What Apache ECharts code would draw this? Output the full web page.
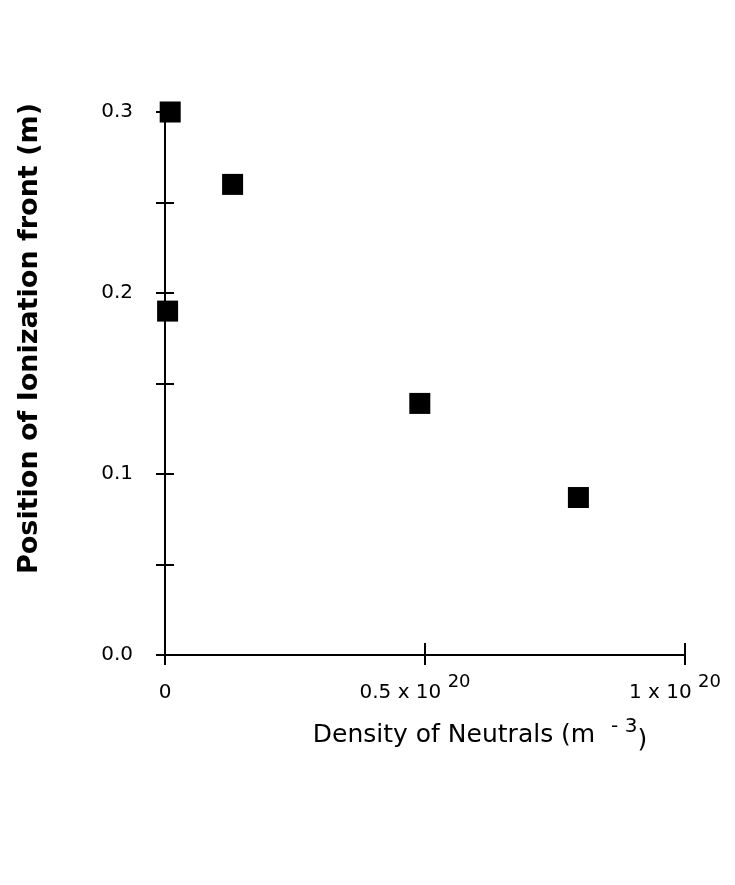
<!DOCTYPE html>
<html>
<head>
    <meta charset="utf-8">
    <title>Ionization front</title>
    <script src="https://cdn.jsdelivr.net/npm/echarts@6.0.0/dist/echarts.min.js"></script>
    <style>body{margin:0;background:#fff;}</style>
</head>
<body>
    <div id="main" style="width:735px;height:885px;"></div>

<script>
// density in units of 1e20 m^-3, position in m
const density = [0.01, 0.13, 0.005, 0.49, 0.795];
const position = [0.30, 0.26, 0.19, 0.139, 0.087];
const yTickLabels = ['0.0', '0.1', '0.2', '0.3'];

const FONT = 'DejaVu Sans';

const myChart = echarts.init(document.getElementById('main'));

const yLabel = (v) => {
    const i = Math.round(v * 10);
    return Math.abs(v * 10 - i) < 1e-6 ? yTickLabels[i] : '';
};
const xLabel = (v) => {
    if (v === 0) return '{n|0}';
    if (Math.abs(v - 0.5) < 1e-6) return '{n|0.5 x 10 }{s|20}';
    if (Math.abs(v - 1) < 1e-6) return '{n|1 x 10 }{s|20}';
    return '';
};

const option = {
    backgroundColor: '#fff',
    animation: false,
    grid: { left: 165, right: 50, top: 112, bottom: 230 },
    xAxis: [{
        type: 'value', min: 0, max: 1, interval: 0.5,
        axisLine: { lineStyle: { color: '#000', width: 2 } },
        axisTick: { length: 10, lineStyle: { color: '#000', width: 2 } },
        splitLine: { show: false },
        axisLabel: {
            margin: 14, color: '#000', fontFamily: FONT, fontSize: 20,
            formatter: xLabel,
            rich: {
                n: { fontSize: 20, fontFamily: FONT, color: '#000', padding: [14, 0, 0, 0] },
                s: { fontSize: 18, fontFamily: FONT, color: '#000', padding: [0, 20, 8, 0] }
            }
        },
        name: 'Density of Neutrals (m  {s|- 3}{p|)}',
        nameLocation: 'middle',
        nameGap: 62,
        nameTextStyle: {
            fontSize: 25, fontFamily: FONT, color: '#000', padding: [0, 0, 0, 110],
            rich: {
                s: { fontSize: 20, fontFamily: FONT, color: '#000', padding: [0, 0, 16, 0] },
                p: { fontSize: 25, fontFamily: FONT, color: '#000', padding: [10, 0, 0, 0] }
            }
        }
    }, {
        type: 'value', min: 0, max: 1, interval: 0.5, position: 'bottom',
        axisLine: { show: false },
        axisTick: { inside: true, length: 12, lineStyle: { color: '#000', width: 2 } },
        axisLabel: { show: false },
        splitLine: { show: false }
    }],
    yAxis: [{
        type: 'value', min: 0, max: 0.3, interval: 0.05,
        axisLine: { show: true, lineStyle: { color: '#000', width: 2 } },
        axisTick: { show: true, length: 9, lineStyle: { color: '#000', width: 2 } },
        splitLine: { show: false },
        axisLabel: {
            margin: 32, fontSize: 20, fontFamily: FONT, color: '#000',
            formatter: yLabel
        },
        name: 'Position of Ionization front (m)',
        nameLocation: 'middle',
        nameGap: 122,
        nameTextStyle: {
            fontSize: 27, fontFamily: FONT, fontWeight: 'bold', color: '#000',
            padding: [0, 0, 0, 90]
        }
    }, {
        type: 'value', min: 0, max: 0.3, interval: 0.05, position: 'left',
        axisLine: { show: false },
        axisTick: { show: true, inside: true, length: 9, lineStyle: { color: '#000', width: 2 } },
        axisLabel: { show: false },
        splitLine: { show: false }
    }],
    series: [{
        type: 'scatter',
        symbol: 'rect',
        symbolSize: 21,
        itemStyle: { color: '#000', opacity: 1 },
        data: density.map((d, i) => [d, position[i]])
    }]
};
myChart.setOption(option);
</script>
</body>
</html>
